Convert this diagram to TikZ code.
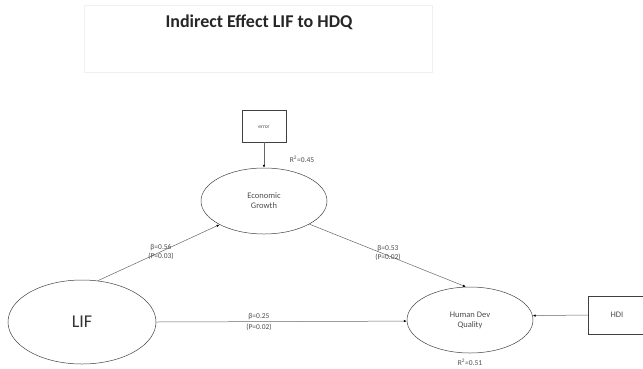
\documentclass[tikz,border=0pt]{standalone}
\usepackage{fontspec}
\setmainfont{Carlito}
\usetikzlibrary{arrows.meta,shapes.geometric}
\begin{document}
\begin{tikzpicture}[x=1pt,y=-1pt,
  latent/.style={draw=black!75,ellipse,inner sep=0pt,line width=0.5pt},
  manifest/.style={draw=black!75,rectangle,inner sep=0pt,line width=0.5pt},
  path/.style={draw=black!60,line width=0.5pt,-{Latex[length=3pt,width=2.5pt,black]}},
  lab/.style={font=\fontsize{7.5}{9}\selectfont,text=black!70,align=center,inner sep=0pt},
  small/.style={font=\fontsize{8.5}{10}\selectfont,text=black!70,align=center}]
\useasboundingbox (0,0) rectangle (643,368);
\node[draw=black!6,minimum width=348,minimum height=67,anchor=north west,inner sep=0pt] (tbox) at (84,5) {};
\node[font=\fontsize{18}{20}\selectfont\bfseries,text=black!85] (title) at (259,22) {Indirect Effect LIF to HDQ};
\node[manifest,minimum width=44,minimum height=32] (err) at (264,126) {};
\node[small,font=\fontsize{5.5}{6}\selectfont] (errt) at (264,127) {error};
\node[latent,minimum width=126,minimum height=66,small] (eg) at (264,201) {Economic\\Growth};
\node[latent,minimum width=148,minimum height=84,font=\fontsize{18}{20}\selectfont,text=black!80] (lif) at (82,322) {LIF};
\node[latent,minimum width=126,minimum height=66,small] (hdq) at (470,320) {Human Dev\\Quality};
\node[manifest,minimum width=58,minimum height=38,small] (hdi) at (617,315) {HDI};
\node[lab] (r1) at (302,159) {R\textsuperscript{2}=0.45};
\node[lab] (r2) at (470,362) {R\textsuperscript{2}=0.51};
\draw[path] (err) -- (eg);
\draw[path] (lif.69) -- (eg.208);
\draw[path] (eg.333) -- (hdq.97);
\draw[path] (lif.east) -- (hdq.181.8);
\draw[path] (hdi.west) -- (hdq.4.5);
\node[lab] (l1) at (161,252) {β=0.56\\(P=0.03)};
\node[lab] (l2) at (388,253) {β=0.53\\(P=0.02)};
\node[lab,font=\fontsize{7.5}{11}\selectfont] (l3) at (259,322) {β=0.25\\(P=0.02)};
\end{tikzpicture}
\end{document}
